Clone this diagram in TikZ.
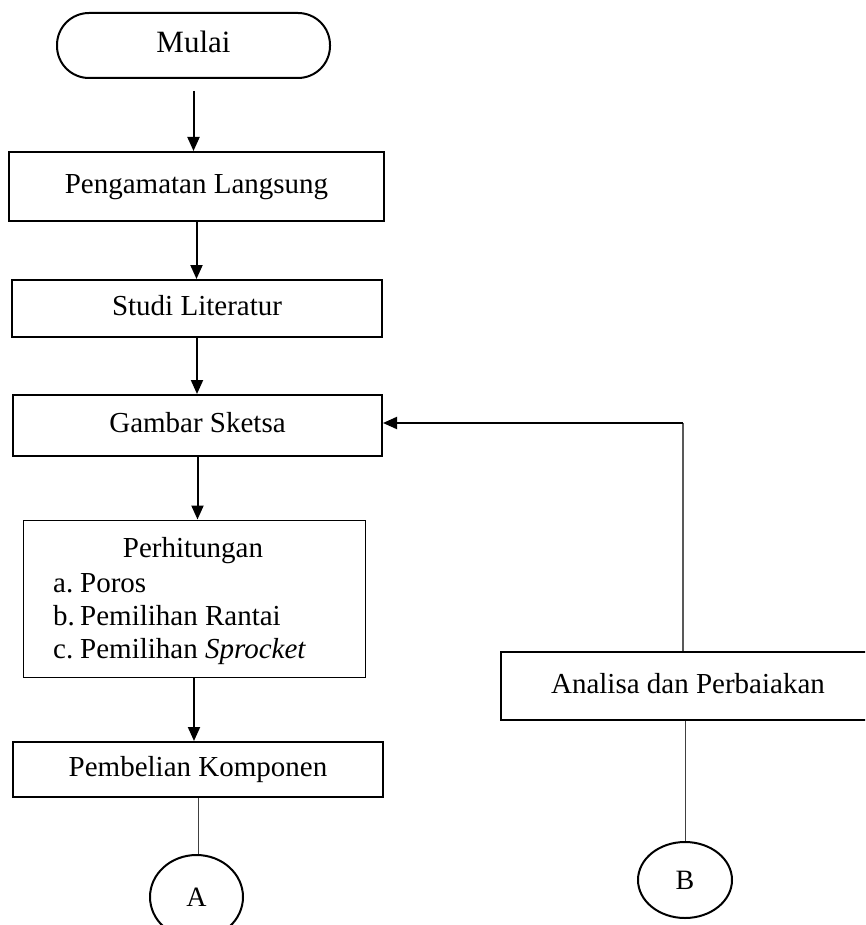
\documentclass[tikz,border=0pt]{standalone}
\usepackage{fontspec}
\setmainfont{Liberation Serif}
\usetikzlibrary{arrows.meta,shapes.geometric}
\begin{document}
\begin{tikzpicture}[x=1pt,y=-1pt,
 box/.style={draw, line width=2pt, inner sep=0pt, font=\fontsize{29}{33}\selectfont, text height=20pt, text depth=6pt},
 thinbox/.style={draw, line width=1pt, inner sep=0pt},
 txt/.style={inner sep=0pt, font=\fontsize{29}{33}\selectfont},
 flow/.style={line width=2pt, -{Triangle[length=14pt,width=12pt]}},
 link/.style={line width=1pt, draw=black!75},
 fblink/.style={line width=1.5pt, draw=black!65},
 conn/.style={draw, ellipse, line width=2pt, inner sep=0pt, font=\fontsize{28}{33}\selectfont}]
\useasboundingbox (0,0) rectangle (865,925);
\clip (0,0) rectangle (865,925);

\node[box, rounded corners=32pt, minimum width=273pt, minimum height=65pt,
      font=\fontsize{31}{35}\selectfont] (mulai) at (193.5,45.5) {Mulai};
\node[box, minimum width=375pt, minimum height=69pt] (peng) at (196.5,186.5) {Pengamatan Langsung};
\node[box, minimum width=370pt, minimum height=57pt] (studi) at (197,308.5) {Studi Literatur};
\node[box, minimum width=369pt, minimum height=61pt] (gambar) at (197.5,425.5) {Gambar Sketsa};
\node[thinbox, minimum width=342pt, minimum height=157pt] (perh) at (194,598.5) {};
\node[txt, anchor=base] (perhT) at (193,557) {Perhitungan};
\node[txt, anchor=base west] (pa) at (53,592) {\makebox[27pt][l]{a.}Poros};
\node[txt, anchor=base west] (pb) at (53,625) {\makebox[27pt][l]{b.}Pemilihan Rantai};
\node[txt, anchor=base west] (pc) at (53,658) {\makebox[27pt][l]{c.}Pemilihan \textit{Sprocket}};
\node[box, minimum width=370pt, minimum height=55pt] (pemb) at (198,769.5) {Pembelian Komponen};
\node[conn, minimum width=93pt, minimum height=84pt] (A) at (196.5,897) {A};

\node[box, minimum width=374pt, minimum height=68pt] (anal) at (688,686) {Analisa dan Perbaiakan};
\node[conn, minimum width=94pt, minimum height=76pt] (B) at (685,880) {B};

\draw[flow, shorten <=12pt] (mulai.south) -- (mulai.south |- peng.north);
\draw[flow] (peng.south) -- (peng.south |- studi.north);
\draw[flow] (studi.south) -- (studi.south |- gambar.north);
\draw[flow] (gambar.south) -- (gambar.south |- perh.north);
\draw[flow] (perh.south) -- (perh.south |- pemb.north);
\draw[link] (pemb.south) -- (pemb.south |- A.north);

\coordinate (fb) at (683,423);
\draw[fblink] (anal.north -| fb) -- (fb);
\draw[flow] (fb) -- (gambar.east |- fb);
\draw[link] (B.north |- anal.south) -- (B.north);
\end{tikzpicture}
\end{document}
